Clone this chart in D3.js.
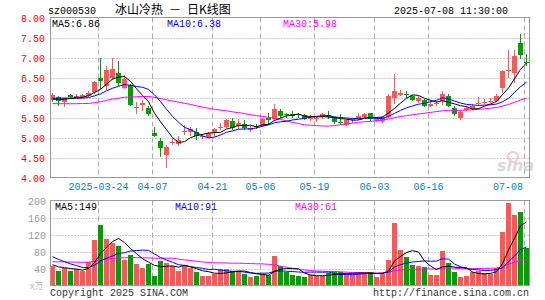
<!DOCTYPE html>
<html>
<head>
<meta charset="utf-8">
<script src="https://cdn.jsdelivr.net/npm/d3@7"></script>
<style>
  body { margin: 0; background: #fff; }
  svg { display: block; }
  text { font-family: 'Liberation Mono', 'DejaVu Sans Mono', monospace; font-size: 10px; }
</style>
</head>
<body>
<svg id="chart" width="545" height="300"></svg>
<script>
// trading days shown (2025)
const dates = [
  '03-12', '03-13', '03-14', '03-17', '03-18', '03-19', '03-20', '03-21', '03-24', '03-25',
  '03-26', '03-27', '03-28', '03-31', '04-01', '04-02', '04-03', '04-07', '04-08', '04-09',
  '04-10', '04-11', '04-14', '04-15', '04-16', '04-17', '04-18', '04-21', '04-22', '04-23',
  '04-24', '04-25', '04-28', '04-29', '04-30', '05-06', '05-07', '05-08', '05-09', '05-12',
  '05-13', '05-14', '05-15', '05-16', '05-19', '05-20', '05-21', '05-22', '05-23', '05-26',
  '05-27', '05-28', '05-29', '05-30', '06-03', '06-04', '06-05', '06-06', '06-09', '06-10',
  '06-11', '06-12', '06-13', '06-16', '06-17', '06-18', '06-19', '06-20', '06-23', '06-24',
  '06-25', '06-26', '06-27', '06-30', '07-01', '07-02', '07-03', '07-04', '07-07', '07-08'
]
const opens = [
  5.93, 6.01, 5.88, 6.06, 6.02, 6.02, 6.04, 6.13, 6.50, 6.28,
  6.49, 6.62, 6.24, 6.31, 5.74, 5.82, 5.75, 5.12, 4.92, 4.57,
  4.87, 4.84, 5.14, 5.13, 5.14, 5.01, 5.01, 5.11, 5.24, 5.27,
  5.42, 5.28, 5.33, 5.19, 5.28, 5.28, 5.50, 5.46, 5.67, 5.58,
  5.60, 5.58, 5.57, 5.45, 5.47, 5.51, 5.57, 5.51, 5.39, 5.32,
  5.43, 5.46, 5.51, 5.61, 5.40, 5.40, 5.51, 6.00, 6.07, 6.09,
  6.04, 5.92, 5.94, 5.79, 5.84, 5.92, 6.05, 5.73, 5.48, 5.68,
  5.71, 5.84, 5.87, 5.89, 5.92, 6.25, 6.68, 6.62, 7.36, 6.88
]
const highs = [
  6.12, 6.03, 6.00, 6.09, 6.09, 6.08, 6.16, 6.42, 7.00, 6.79,
  7.00, 6.92, 6.56, 6.33, 5.88, 5.94, 5.79, 5.27, 5.00, 4.82,
  4.98, 5.04, 5.32, 5.26, 5.23, 5.09, 5.13, 5.23, 5.37, 5.46,
  5.48, 5.46, 5.44, 5.29, 5.33, 5.48, 5.62, 5.84, 5.72, 5.62,
  5.65, 5.61, 5.58, 5.57, 5.51, 5.61, 5.65, 5.52, 5.58, 5.46,
  5.48, 5.61, 5.61, 5.62, 5.51, 5.54, 6.08, 6.59, 6.19, 6.17,
  6.07, 6.05, 5.96, 5.92, 5.92, 6.17, 6.08, 5.79, 5.69, 5.78,
  5.84, 6.02, 5.96, 5.98, 6.08, 6.69, 7.19, 7.19, 7.59, 7.08
]
const lows = [
  5.89, 5.80, 5.77, 5.98, 5.98, 5.98, 6.02, 6.09, 6.22, 6.18,
  6.43, 6.28, 6.20, 5.78, 5.60, 5.65, 5.54, 5.01, 4.52, 4.23,
  4.82, 4.79, 5.07, 5.03, 4.94, 4.96, 4.98, 5.01, 5.19, 5.25,
  5.19, 5.21, 5.19, 5.15, 5.21, 5.26, 5.32, 5.42, 5.48, 5.50,
  5.48, 5.48, 5.44, 5.42, 5.38, 5.47, 5.46, 5.34, 5.32, 5.28,
  5.36, 5.44, 5.48, 5.40, 5.38, 5.36, 5.48, 5.84, 6.04, 5.98,
  5.92, 5.87, 5.76, 5.77, 5.79, 5.82, 5.76, 5.54, 5.44, 5.65,
  5.69, 5.82, 5.84, 5.86, 5.88, 6.11, 6.48, 6.36, 6.96, 6.80
]
const closes = [
  6.07, 5.91, 5.98, 6.02, 6.05, 6.06, 6.12, 6.38, 6.41, 6.68,
  6.71, 6.37, 6.45, 5.81, 5.76, 5.87, 5.58, 5.03, 4.73, 4.77,
  4.89, 4.94, 5.16, 5.22, 5.04, 5.03, 5.11, 5.21, 5.26, 5.44,
  5.23, 5.36, 5.24, 5.25, 5.27, 5.46, 5.43, 5.72, 5.54, 5.56,
  5.55, 5.56, 5.46, 5.50, 5.50, 5.59, 5.51, 5.38, 5.38, 5.44,
  5.45, 5.54, 5.59, 5.46, 5.46, 5.51, 6.05, 6.15, 6.12, 6.07,
  5.94, 5.98, 5.80, 5.85, 5.86, 6.10, 5.80, 5.59, 5.63, 5.73,
  5.80, 5.86, 5.89, 5.91, 6.05, 6.65, 6.70, 7.04, 7.07, 6.86
]
// volume, 万手
const volumes = [
  47, 34, 41, 34, 38, 33, 55, 107, 143, 110,
  101, 92, 60, 72, 50, 42, 50, 23, 58, 53,
  47, 34, 45, 41, 31, 23, 23, 27, 38, 38,
  34, 33, 27, 20, 23, 27, 25, 70, 47, 31,
  25, 23, 20, 25, 23, 23, 29, 31, 31, 27,
  25, 32, 32, 31, 21, 27, 61, 148, 84, 68,
  49, 45, 43, 25, 25, 82, 52, 32, 21, 23,
  31, 33, 29, 27, 42, 125, 195, 166, 173, 88
]
// sessions before the window, only feed the moving averages
const prevCloses = [
  6.02, 5.98, 6.05, 6.00, 5.97, 6.03, 5.80, 5.75, 5.70, 5.68,
  5.72, 5.70, 5.65, 5.60, 5.55, 5.62, 5.65, 5.70, 5.72, 5.78,
  5.85, 5.95, 6.05, 6.10, 6.00, 5.98, 5.95, 5.92, 5.90
]
const prevVolumes = [
  45, 40, 50, 42, 48, 44, 46, 42, 55, 60,
  48, 52, 50, 58, 62, 50, 48, 55, 52, 52,
  100, 95, 85, 80, 75, 60, 50, 45, 43
]

const priceTicks = [8, 7.5, 7, 6.5, 6, 5.5, 5, 4.5, 4]
const volTicks = [200, 160, 120, 80, 40]
const tickDates = ['03-24', '04-07', '04-21', '05-06', '05-19', '06-03', '06-16', '07-08']
const tickLabels = ['2025-03-24', '04-07', '04-21', '05-06', '05-19', '06-03', '06-16', '07-08']

const up = '#ff5555'
const down = '#00a000'
const maColors = { 5: '#000000', 10: '#0000ff', 30: '#ff00ff' }

const plot = { left: 50.5, right: 529.5, top: 17.5, bottom: 177.5 }
const vol = { top: 200.5, bottom: 285.5 }

const svg = d3.select('#chart')

const x = d3.scalePoint().domain(dates).range([52, 526])
const y = d3.scaleLinear().domain([4, 8]).range([plot.bottom, plot.top])
const yv = d3.scaleLinear().domain([0, 200]).range([vol.bottom, vol.top])

function movingAverage (prev, values, n) {
  const all = prev.concat(values)
  return values.map((v, i) => d3.mean(all.slice(prev.length + i - n + 1, prev.length + i + 1)))
}

const candles = dates.map((d, i) => ({
  date: d, open: opens[i], high: highs[i], low: lows[i], close: closes[i], volume: volumes[i]
}))
const colorOf = d => d.close >= d.open ? up : down

// clip paths
const defs = svg.append('defs')
defs.append('clipPath').attr('id', 'clipPrice').append('rect')
  .attr('x', plot.left + 0.5).attr('y', plot.top).attr('width', plot.right - plot.left - 1).attr('height', plot.bottom - plot.top)
defs.append('clipPath').attr('id', 'clipVol').append('rect')
  .attr('x', plot.left + 0.5).attr('y', vol.top).attr('width', plot.right - plot.left - 1).attr('height', vol.bottom - vol.top)

// header
const cjk = "'Noto Sans CJK SC', sans-serif"
svg.append('text').attr('x', 48).attr('y', 14).text('sz000530')
svg.append('text').attr('x', 115).attr('y', 14).style('font-family', cjk).style('font-size', '12px').text('冰山冷热')
svg.append('text').attr('x', 175).attr('y', 14).attr('text-anchor', 'middle').style('font-family', cjk).style('font-size', '12px').text('－')
svg.append('text').attr('x', 187).attr('y', 14).style('font-family', cjk).style('font-size', '12px').text('日K线图')
svg.append('text').attr('x', 508).attr('y', 14).attr('text-anchor', 'end').text('2025-07-08 11:30:00')

// grids
const gridG = svg.append('g')
gridG.selectAll('line.hp').data(priceTicks.slice(1, -1)).join('line')
  .attr('x1', plot.left).attr('x2', plot.right)
  .attr('y1', d => Math.round(y(d)) + 0.5).attr('y2', d => Math.round(y(d)) + 0.5)
  .attr('stroke', '#999').attr('stroke-dasharray', '1,2')
gridG.selectAll('line.hv').data(volTicks.slice(1)).join('line')
  .attr('x1', plot.left).attr('x2', plot.right)
  .attr('y1', d => Math.round(yv(d)) + 0.5).attr('y2', d => Math.round(yv(d)) + 0.5)
  .attr('stroke', '#999').attr('stroke-dasharray', '1,2')
tickDates.forEach(d => {
  const gx = x(d) - 1.5
  gridG.append('line').attr('x1', gx).attr('x2', gx).attr('y1', plot.top).attr('y2', plot.bottom)
    .attr('stroke', '#aaa').attr('stroke-dasharray', '5,3')
  gridG.append('line').attr('x1', gx).attr('x2', gx).attr('y1', vol.top).attr('y2', vol.bottom)
    .attr('stroke', '#aaa').attr('stroke-dasharray', '5,3')
})

// watermark
const wm = svg.append('g').attr('opacity', 0.55)
wm.append('circle').attr('cx', 513).attr('cy', 157).attr('r', 5)
  .attr('fill', 'none').attr('stroke', '#f0a0a0').attr('stroke-width', 2)
wm.append('text').attr('x', 497).attr('y', 171)
  .style('font-family', "'DejaVu Sans', sans-serif").style('font-size', '16px')
  .style('font-weight', 'bold').style('font-style', 'italic')
  .attr('fill', '#bbb').text('sina')

// candles
const priceG = svg.append('g').attr('clip-path', 'url(#clipPrice)')
const cg = priceG.selectAll('g.candle').data(candles).join('g').attr('class', 'candle')
cg.append('line')
  .attr('x1', d => x(d.date) + 0.5).attr('x2', d => x(d.date) + 0.5)
  .attr('y1', d => Math.round(y(d.high))).attr('y2', d => Math.round(y(d.low)))
  .attr('stroke', colorOf)
cg.append('rect')
  .attr('x', d => x(d.date) - 2)
  .attr('width', 5)
  .attr('y', d => Math.round(y(Math.max(d.open, d.close))))
  .attr('height', d => Math.max(1, Math.round(y(Math.min(d.open, d.close))) - Math.round(y(Math.max(d.open, d.close)))))
  .attr('fill', colorOf)

// price moving averages
;[30, 10, 5].forEach(n => {
  const m = movingAverage(prevCloses, closes, n)
  priceG.append('path')
    .datum(m)
    .attr('fill', 'none')
    .attr('stroke', maColors[n])
    .attr('stroke-width', 1)
    .attr('d', d3.line().x((v, i) => x(dates[i]) + 0.5).y(v => y(v)))
})

// volume bars
const volG = svg.append('g').attr('clip-path', 'url(#clipVol)')
volG.selectAll('rect').data(candles).join('rect')
  .attr('x', d => x(d.date) - 2)
  .attr('width', 5)
  .attr('y', d => Math.round(yv(d.volume)))
  .attr('height', d => vol.bottom - Math.round(yv(d.volume)))
  .attr('fill', colorOf)
;[30, 10, 5].forEach(n => {
  const m = movingAverage(prevVolumes, volumes, n)
  volG.append('path')
    .datum(m)
    .attr('fill', 'none')
    .attr('stroke', maColors[n])
    .attr('stroke-width', 1)
    .attr('d', d3.line().x((v, i) => x(dates[i]) + 0.5).y(v => yv(v)))
})

// frames
svg.append('rect').attr('x', plot.left).attr('y', plot.top)
  .attr('width', plot.right - plot.left).attr('height', plot.bottom - plot.top)
  .attr('fill', 'none').attr('stroke', '#999')
svg.append('rect').attr('x', plot.left).attr('y', vol.top)
  .attr('width', plot.right - plot.left).attr('height', vol.bottom - vol.top)
  .attr('fill', 'none').attr('stroke', '#999')

// axis labels
svg.selectAll('text.pl').data(priceTicks).join('text')
  .attr('x', 45).attr('y', d => y(d) + 4)
  .attr('text-anchor', 'end').attr('fill', '#ff0000')
  .text(d => d.toFixed(2))
svg.selectAll('text.vl').data(volTicks).join('text')
  .attr('x', 46).attr('y', d => yv(d) + 4)
  .attr('text-anchor', 'end').attr('fill', '#999')
  .text(d => d)
svg.append('text').attr('x', 30).attr('y', 289).attr('fill', '#bbb')
  .style('font-family', cjk).style('font-size', '9px')
  .text('x万')
tickDates.forEach((d, i) => {
  const isLast = i === tickDates.length - 1
  svg.append('text')
    .attr('x', isLast ? 523 : x(d) - 1.5).attr('y', 190)
    .attr('text-anchor', isLast ? 'end' : 'middle').attr('fill', '#0080d0')
    .text(tickLabels[i])
})

// legends
const last = a => a[a.length - 1]
const pma = n => last(movingAverage(prevCloses, closes, n)).toFixed(2)
const vma = n => Math.round(last(movingAverage(prevVolumes, volumes, n)))
svg.append('text').attr('x', 52).attr('y', 27).attr('fill', maColors[5]).text(`MA5:${pma(5)}`)
svg.append('text').attr('x', 167).attr('y', 27).attr('fill', maColors[10]).text(`MA10:${pma(10)}`)
svg.append('text').attr('x', 283).attr('y', 27).attr('fill', maColors[30]).text(`MA30:${pma(30)}`)
svg.append('text').attr('x', 55).attr('y', 210).attr('fill', maColors[5]).text(`MA5:${vma(5)}`)
svg.append('text').attr('x', 175).attr('y', 210).attr('fill', maColors[10]).text(`MA10:${vma(10)}`)
svg.append('text').attr('x', 295).attr('y', 210).attr('fill', maColors[30]).text(`MA30:${vma(30)}`)

// footer
svg.append('text').attr('x', 50).attr('y', 296).attr('fill', '#333').text('Copyright 2025 SINA.COM')
svg.append('text').attr('x', 529).attr('y', 296).attr('text-anchor', 'end').attr('fill', '#333').text('http://finance.sina.com.cn')
</script>
</body>
</html>
